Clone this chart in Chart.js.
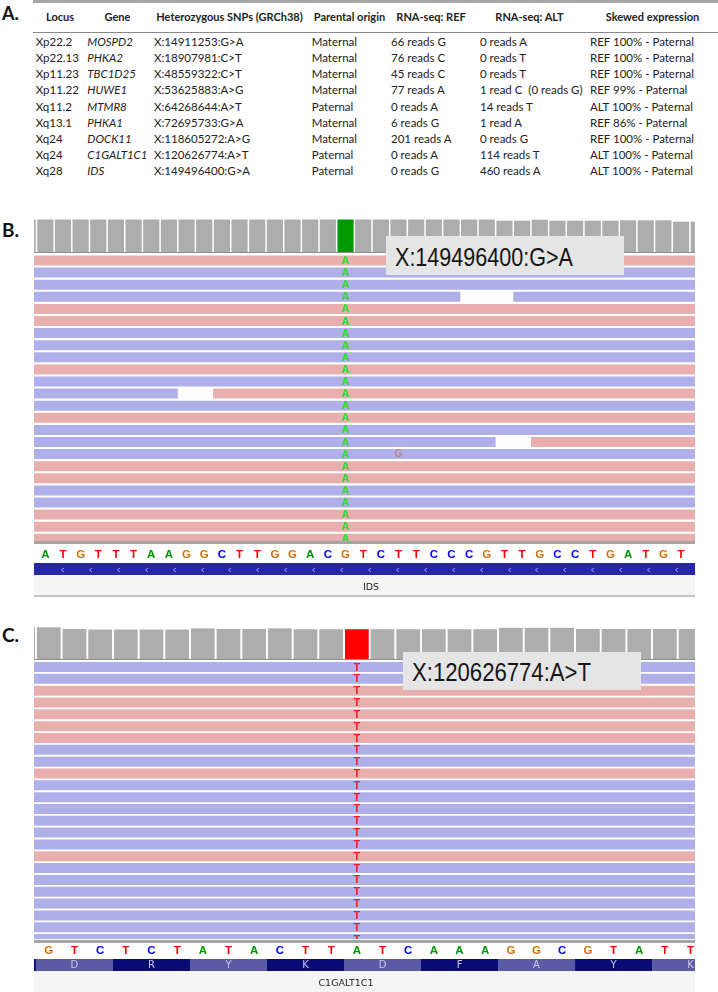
<!DOCTYPE html>
<html><head><meta charset="utf-8">
<script src="https://cdn.jsdelivr.net/npm/chart.js@4.4.1/dist/chart.umd.min.js"></script>
<style>
html,body{margin:0;padding:0;background:#fff}
body{width:718px;height:992px;position:relative;overflow:hidden;font-family:Lato,'Open Sans',sans-serif;color:#1a1a1a}
.a{position:absolute}
canvas.a{display:block}
.plabel{position:absolute;font-family:Lato,sans-serif;font-weight:bold;color:#111;white-space:pre}
.th{position:absolute;font-weight:bold;font-size:11px;line-height:14px;white-space:pre;transform:translateX(-50%);color:#222}
.td{position:absolute;font-size:11.5px;line-height:14px;white-space:pre;color:#222}
.snpbox{position:absolute;background:#e5e5e5;z-index:5}
.snpbox span{position:absolute;font-family:'Liberation Sans',Arial,sans-serif;font-size:25px;line-height:25px;color:#161616;transform-origin:0 50%;white-space:pre}
.gname{position:absolute;font-family:'DejaVu Sans',sans-serif;font-size:9.5px;line-height:10px;color:#222;transform:translateX(-50%);white-space:pre}
</style></head><body>
<script>
// ---------------- Table (panel A) ----------------
const tableHeaders = ['Locus','Gene','Heterozygous SNPs (GRCh38)','Parental origin','RNA-seq: REF','RNA-seq: ALT','Skewed expression'];
const loci    = ['Xp22.2','Xp22.13','Xp11.23','Xp11.22','Xq11.2','Xq13.1','Xq24','Xq24','Xq28'];
const genes   = ['MOSPD2','PHKA2','TBC1D25','HUWE1','MTMR8','PHKA1','DOCK11','C1GALT1C1','IDS'];
const snps    = ['X:14911253:G>A','X:18907981:C>T','X:48559322:C>T','X:53625883:A>G','X:64268644:A>T','X:72695733:G>A','X:118605272:A>G','X:120626774:A>T','X:149496400:G>A'];
const origins = ['Maternal','Maternal','Maternal','Maternal','Paternal','Maternal','Maternal','Paternal','Paternal'];
const refReads = ['66 reads G','76 reads C','45 reads C','77 reads A','0 reads A','6 reads G','201 reads A','0 reads A','0 reads G'];
const altReads = ['0 reads A','0 reads T','0 reads T','1 read C  (0 reads G)','14 reads T','1 read A','0 reads G','114 reads T','460 reads A'];
const skewed   = ['REF 100% - Paternal','REF 100% - Paternal','REF 100% - Paternal','REF 99% - Paternal','ALT 100% - Paternal','REF 86% - Paternal','REF 100% - Paternal','ALT 100% - Paternal','ALT 100% - Paternal'];

// ---------------- Panel B (IDS, X:149496400:G>A) ----------------
const bSnpLabel = 'X:149496400:G>A';
const bSnpIndex = 17;
const bAltBase = 'A';
const bCoverageStart = -1;
const bCoverage = [460,460,460,460,460,460,460,460,460,460,460,460,460,460,460,460,460,460,460,460,460,460,460,460,460,460,
                   460,443,443,457,443,443,443,443,449,449,449,429,429];
const bRefSeq = ['A','T','G','T','T','T','A','A','G','G','C','T','T','G','G','A','C','G','T','C','T','T','C','C','C','G','T','T','G','C','C','T','G','A','T','G','T','C'];
const bRowStrand = ['+','-','-','-','+','+','-','-','-','+','-','-','-','+','-','-','-','+','+','-','-','+','+','+'];
const bGapRow = [3, 11, 15];
const bGapStart = [23.5, 7.5, 25.5];
const bGapEnd = [26.5, 9.5, 27.5];
const bGapRightStrand = ['-','+','+'];
const bMismatchRow = [16];
const bMismatchPos = [20];
const bMismatchBase = ['G'];
const bCodonStart = [-4,-1,2,5,8,11,14,17,20,23,26,29,32,35];
const bGeneName = 'IDS';

// ---------------- Panel C (C1GALT1C1, X:120626774:A>T) ----------------
const cSnpLabel = 'X:120626774:A>T';
const cSnpIndex = 12;
const cAltBase = 'T';
const cCoverageStart = -1;
const cCoverage = [114,114,108,106,106,106,106,110,108,108,110,107,107,107,107,107,107,107,107,112,112,112,108,108,108,108,108];
const cRefSeq = ['G','T','C','T','C','T','A','T','A','C','T','T','A','T','C','A','A','A','G','G','C','G','T','A','T','T'];
const cRowStrand = ['-','-','+','+','+','+','+','-','-','+','-','-','-','-','-','-','+','-','-','-','-','-','-','-'];
const cCodonStart = [-3,0,3,6,9,12,15,18,21,24];
const cAmino = ['','D','R','Y','K','D','F','A','Y','K'];
const cGeneName = 'C1GALT1C1';

// ---------------- helpers ----------------
const body = document.body;
function div(cls, left, top, w, h, bg, text){
  const d=document.createElement('div'); d.className=cls;
  d.style.left=left+'px'; d.style.top=top+'px';
  if(w!=null) d.style.width=w+'px'; if(h!=null) d.style.height=h+'px';
  if(bg) d.style.background=bg; if(text!=null) d.textContent=text;
  body.appendChild(d); return d;
}
function canvasAt(left, top, w, h){
  const c=document.createElement('canvas'); c.className='a';
  c.width=w; c.height=h; c.style.left=left+'px'; c.style.top=top+'px';
  c.style.width=w+'px'; c.style.height=h+'px'; body.appendChild(c); return c;
}
const baseColor = {A:'#009600',C:'#0000ff',G:'#d17105',T:'#ff0000'};
const PINK='#e9afaf', BLUE='#afafe9', GREY='#adadad';
const commonOpts = (xmin,xmax,ymin,ymax,extra)=>Object.assign({
  responsive:false, animation:false, devicePixelRatio:1, events:[],
  layout:{padding:0},
  plugins:{legend:{display:false},tooltip:{enabled:false},title:{display:false}},
  scales:{x:{type:'linear',min:xmin,max:xmax,display:false,offset:false},
          y:{type:'linear',min:ymin,max:ymax,display:false,offset:false}}
}, extra||{});

// ---------------- Panel A table ----------------
div('a',33,0,685,2.6,'#a6a6a6');
div('a',33,31.8,685,1,'#8a8a8a');
const pa=div('plabel',2,3.5,null,null,null,'A.'); pa.style.fontSize='18px'; pa.style.lineHeight='18px';
const colLeft=[35.7,87.3,154,311.7,391,480,590];
const headCenter=[60,117.5,229.5,349.5,431,529.5,652.5];
const columns=[loci,genes,snps,origins,refReads,altReads,skewed];
tableHeaders.forEach((h,i)=>div('th',headCenter[i],10.4,null,null,null,h));
columns.forEach((col,ci)=>col.forEach((t,ri)=>{
  const d=div('td',colLeft[ci],42.3+16.2*ri-7.5,null,null,null,t);
  if(ci===1) d.style.fontStyle='italic';
}));

// ---------------- IGV-like panel builder ----------------
function buildPanel(p){
  const pl=div('plabel',2,p.labelTop,null,null,null,p.letter); pl.style.fontSize='19px'; pl.style.lineHeight='19px';
  const L=34, W=661;
  const xmin=(L-p.c0)/p.pitch, xmax=(L+W-p.c0)/p.pitch;
  // coverage
  const cov=canvasAt(L,p.covTop,W,p.covH);
  const covData=p.coverage.map((v,k)=>({x:p.covStart+k,y:v}));
  new Chart(cov,{type:'bar',data:{datasets:[{data:covData,
    backgroundColor:covData.map(d=>d.x===p.snp?p.snpColor:GREY),
    borderWidth:0,inflateAmount:0,categoryPercentage:1,barPercentage:p.covBarPct}]},
    options:commonOpts(xmin,xmax,0,p.covMax)});
  div('a',L,p.covTop+p.covH,W,1,'#8f8f8f');
  // reads
  const X0=-6, X1=50;
  const fwd=[], rev=[];
  p.strand.forEach((s,r)=>{
    const gi=(p.gapRow||[]).indexOf(r);
    if(gi<0){ (s==='+'?fwd:rev).push({x:[X0,X1],y:r}); }
    else{
      (s==='+'?fwd:rev).push({x:[X0,p.gapStart[gi]],y:r});
      (p.gapRightStrand[gi]==='+'?fwd:rev).push({x:[p.gapEnd[gi],X1],y:r});
    }
  });
  const rc=canvasAt(L,p.readsTop,W,p.readsH);
  const yTopVal=-(p.row0Center-p.readsTop)/p.rowPitch;
  const yBotVal=yTopVal+p.readsH/p.rowPitch;
  const barPct=10/p.rowPitch;
  const readsOpts=commonOpts(xmin,xmax,yTopVal,yBotVal,{indexAxis:'y'});
  readsOpts.scales.y.reverse=true;
  new Chart(rc,{type:'bar',data:{datasets:[
      {data:fwd,backgroundColor:PINK,borderWidth:0,inflateAmount:0,grouped:false,categoryPercentage:1,barPercentage:barPct},
      {data:rev,backgroundColor:BLUE,borderWidth:0,inflateAmount:0,grouped:false,categoryPercentage:1,barPercentage:barPct}]},
    options:readsOpts,
    plugins:[{id:'alts',afterDatasetsDraw(ch){
      const ctx=ch.ctx,x=ch.scales.x,y=ch.scales.y; ctx.save();
      ctx.font='bold 11px "Liberation Sans", Arial, sans-serif'; ctx.textAlign='center'; ctx.textBaseline='middle';
      ctx.fillStyle=p.altColor;
      p.strand.forEach((s,r)=>ctx.fillText(p.alt,x.getPixelForValue(p.snp),y.getPixelForValue(r)+0.5));
      (p.misRow||[]).forEach((r,i)=>{ctx.fillStyle='rgba(185,130,120,0.85)';ctx.font='bold 10px "Liberation Sans", Arial, sans-serif';
        ctx.fillText(p.misBase[i],x.getPixelForValue(p.misPos[i]),y.getPixelForValue(r)+0.5);});
      ctx.restore();}}]});
  div('a',L,p.lineTop,W,3,'#a4a4a4');
  div('a',L,p.nameBgTop,W,p.nameBgH,'#f5f5f5');
  if(p.bottomLine) div('a',L,p.bottomLine,W,1.5,'#c4c4c4');
  // track chart: sequence + gene
  const tc=canvasAt(L,p.trackTop,W,p.trackH);
  const blocks=p.codons.map((s,k)=>({x:[s-0.5,s+2.5],y:p.geneY+p.codonShift}));
  const tOpts=commonOpts(xmin,xmax,0,p.trackH,{indexAxis:'y'});
  tOpts.scales.y.reverse=true;
  const dsets=[];
  if(p.geneStrip){
    dsets.push({data:[{x:[X0,X1],y:p.geneY}],backgroundColor:p.geneStrip,borderWidth:0,inflateAmount:0,grouped:false,barThickness:12});
    dsets.push({data:[{x:[X0,X1],y:p.geneY+4.5}],backgroundColor:p.geneStrip2,borderWidth:0,inflateAmount:0,grouped:false,barThickness:3});
  }
  dsets.push({data:blocks,backgroundColor:blocks.map((b,k)=>p.codonColors[(k+p.codonPhase)%2]),borderWidth:0,inflateAmount:0,grouped:false,barThickness:p.codonThick});
  new Chart(tc,{type:'bar',data:{datasets:dsets},options:tOpts,
    plugins:[{id:'seq',afterDatasetsDraw(ch){
      const ctx=ch.ctx,x=ch.scales.x,y=ch.scales.y; ctx.save();
      ctx.font='bold 11.5px "Liberation Sans", Arial, sans-serif'; ctx.textAlign='center'; ctx.textBaseline='middle';
      p.ref.forEach((b,i)=>{ctx.fillStyle=baseColor[b];ctx.fillText(b,x.getPixelForValue(i),y.getPixelForValue(p.seqY)+0.5);});
      if(p.amino){ctx.font='10px "DejaVu Sans", sans-serif';ctx.fillStyle='#c8c8ea';
        p.codons.forEach((s,k)=>{if(p.amino[k])ctx.fillText(p.amino[k],x.getPixelForValue(s+1),y.getPixelForValue(p.geneY)+0.5);});}
      if(p.arrows){ctx.strokeStyle='rgba(170,170,255,0.85)';ctx.lineWidth=1;
        for(let v=0.95;v<40;v+=1.58){const px=Math.round(x.getPixelForValue(v))+0.5,py=y.getPixelForValue(p.geneY)+1;
          ctx.beginPath();ctx.moveTo(px+1.5,py-2);ctx.lineTo(px-1,py);ctx.lineTo(px+1.5,py+2);ctx.stroke();}}
      ctx.restore();}}]});
  div('gname',p.nameX,p.nameY-5,null,null,null,p.geneName);
  const box=div('snpbox',p.box[0],p.box[1],p.box[2],p.box[3],null,null);
  const sp=document.createElement('span'); sp.textContent=p.label; box.appendChild(sp);
  sp.style.left=p.textLeft+'px'; sp.style.top=p.textTop+'px';
  const nat=sp.getBoundingClientRect().width; sp.style.transform='scaleX('+(p.textW/nat)+')';
}

buildPanel({letter:'B.',labelTop:220,c0:45.3,pitch:17.66,
  covTop:219,covH:33,covMax:467,coverage:bCoverage,covStart:bCoverageStart,snp:bSnpIndex,snpColor:'#009a00',covBarPct:0.915,
  strand:bRowStrand,gapRow:bGapRow,gapStart:bGapStart,gapEnd:bGapEnd,gapRightStrand:bGapRightStrand,
  misRow:bMismatchRow,misPos:bMismatchPos,misBase:bMismatchBase,
  readsTop:254,readsH:287,row0Center:260.5,rowPitch:12.1,alt:bAltBase,altColor:'#2fdc2f',
  lineTop:541,trackTop:544,trackH:52,seqY:10,geneY:25,
  codons:bCodonStart,codonColors:['#00008a','#0606ac'],codonPhase:0,codonThick:8,codonShift:0.5,
  geneStrip:'#2626aa',geneStrip2:'#6a6ac4',arrows:true,
  ref:bRefSeq,nameBgTop:575,nameBgH:20,bottomLine:595,nameX:371,nameY:587,geneName:bGeneName,
  label:bSnpLabel,box:[386,236,238,39],textLeft:9,textTop:9.3,textW:178});

buildPanel({letter:'C.',labelTop:625,c0:48.8,pitch:25.67,
  covTop:627,covH:32,covMax:115,coverage:cCoverage,covStart:cCoverageStart,snp:cSnpIndex,snpColor:'#ff0000',covBarPct:0.925,
  strand:cRowStrand,readsTop:661,readsH:278,row0Center:667,rowPitch:11.83,alt:cAltBase,altColor:'#ee2020',
  lineTop:940,trackTop:943,trackH:49,seqY:7,geneY:22,
  codons:cCodonStart,codonColors:['#0b0b78','#5a5aa5'],codonPhase:0,codonThick:12,codonShift:0,geneStrip:null,arrows:false,amino:cAmino,
  ref:cRefSeq,nameBgTop:971,nameBgH:21,bottomLine:null,nameX:346,nameY:983,geneName:cGeneName,
  label:cSnpLabel,box:[403,652,238,38],textLeft:9,textTop:8.3,textW:179});
</script>
</body></html>
